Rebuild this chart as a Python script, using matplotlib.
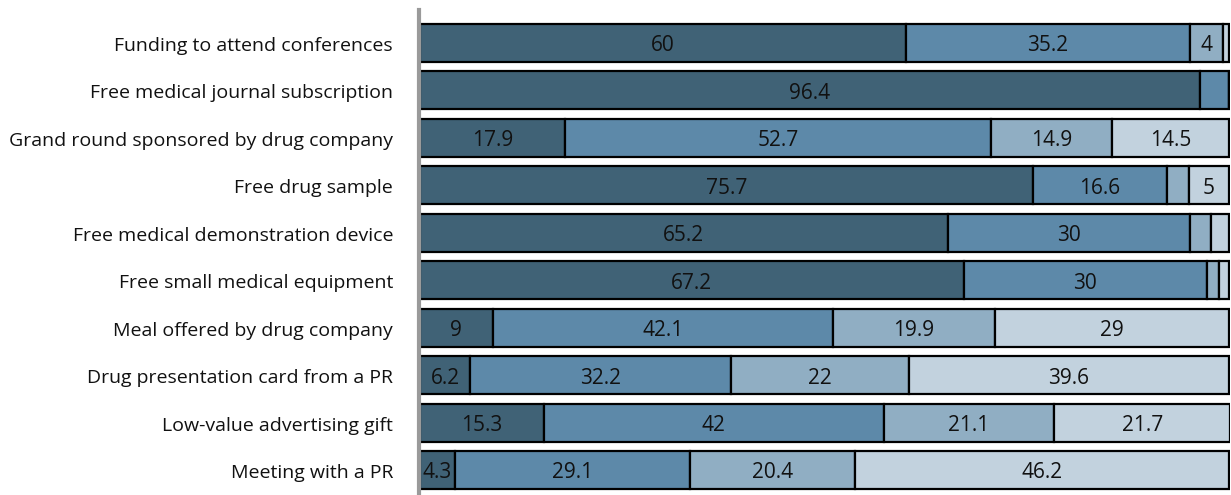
import matplotlib
matplotlib.use("Agg")
import matplotlib.pyplot as plt
import matplotlib.transforms as mtransforms
import numpy as np

categories = [
    "Funding to attend conferences",
    "Free medical journal subscription",
    "Grand round sponsored by drug company",
    "Free drug sample",
    "Free medical demonstration device",
    "Free small medical equipment",
    "Meal offered by drug company",
    "Drug presentation card from a PR",
    "Low-value advertising gift",
    "Meeting with a PR",
]
series1 = [60, 96.4, 17.9, 75.7, 65.2, 67.2, 9, 6.2, 15.3, 4.3]
series2 = [35.2, 3.6, 52.7, 16.6, 30, 30, 42.1, 32.2, 42, 29.1]
series3 = [4, 0, 14.9, 2.7, 2.6, 1.6, 19.9, 22, 21.1, 20.4]
series4 = [0.8, 0, 14.5, 5, 2.2, 1.2, 29, 39.6, 21.7, 46.2]

colors = ["#406276", "#5d89a9", "#90aec3", "#c2d2de"]
plt.rcParams['font.family'] = ['Open Sans', 'DejaVu Sans']

fig = plt.figure(figsize=(12.31, 4.95), dpi=100)
ax = fig.add_axes([420/1231, 0, 810/1231, 485/495])

down = mtransforms.ScaledTranslation(0, -3 / 100, fig.dpi_scale_trans)

y = np.arange(len(categories))
left = np.zeros(len(categories))
for vals, c in zip([series1, series2, series3, series4], colors):
    vals = np.array(vals, dtype=float)
    ax.barh(y, vals, left=left, color=c, edgecolor="black", linewidth=1.6, height=0.8)
    for yi, l, v in zip(y, left, vals):
        if v >= 4:
            ax.text(l + v / 2, yi, f"{v:g}", ha="center", va="center",
                    transform=ax.transData + down,
                    fontsize=15, color="#111111")
    left += vals

ax.set_xlim(0, 100.1)
ax.set_ylim(9.527, -0.695)
ax.set_yticks([])
ax.set_xticks([])

trans = mtransforms.blended_transform_factory(ax.transAxes, ax.transData)
offset = mtransforms.ScaledTranslation(-27 / 100, -3 / 100, fig.dpi_scale_trans)
for yi, lab in zip(y, categories):
    ax.text(0, yi, lab, transform=trans + offset, ha="right", va="center",
            fontsize=14, color="#111111")

for s in ["top", "right", "bottom"]:
    ax.spines[s].set_visible(False)
ax.spines["left"].set_color("#9a9a9a")
ax.spines["left"].set_linewidth(3)
ax.spines["left"].set_position(("outward", 1))

fig.savefig("out.png", dpi=100)
